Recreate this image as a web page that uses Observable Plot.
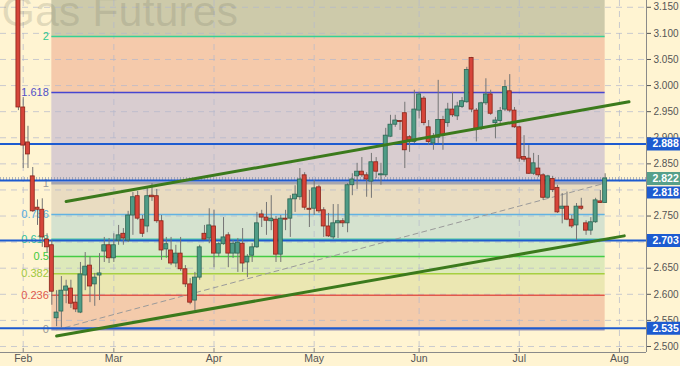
<!DOCTYPE html>
<html><head><meta charset="utf-8">
<script src="https://cdn.jsdelivr.net/npm/d3@7"></script>
<script src="https://cdn.jsdelivr.net/npm/@observablehq/plot@0.6"></script>
<style>
html,body{margin:0;padding:0;background:#fff4d2;}
#chart{width:680px;height:366px;}
</style></head><body><div id="chart"></div>
<script>
// ---- data ----
const firstDay = "2018-01-31";
const lastDay = "2018-07-27";
const holidays = ["2018-02-19","2018-03-30","2018-05-28","2018-07-04"];
const opens = [3.220,2.958,2.891,2.826,2.766,2.762,2.705,2.694,2.554,2.567,
2.607,2.611,2.584,2.565,2.636,2.655,2.619,2.636,2.682,2.694,
2.669,2.703,2.716,2.703,2.751,2.788,2.743,2.730,2.789,2.788,
2.740,2.686,2.684,2.659,2.678,2.648,2.619,2.588,2.632,2.716,
2.707,2.730,2.678,2.696,2.713,2.678,2.678,2.697,2.661,2.674,
2.690,2.753,2.747,2.740,2.743,2.676,2.745,2.745,2.782,2.786,
2.828,2.764,2.764,2.805,2.761,2.730,2.709,2.736,2.740,2.736,
2.809,2.826,2.835,2.828,2.816,2.853,2.828,2.828,2.902,2.925,
2.932,2.947,2.901,2.892,2.952,2.975,2.920,2.889,2.900,2.934,
2.928,2.954,2.941,2.959,2.968,3.053,2.952,2.917,2.966,2.983,
2.928,2.932,2.954,2.989,2.952,2.920,2.863,2.860,2.831,2.841,
2.828,2.785,2.821,2.804,2.764,2.768,2.743,2.732,2.768,2.736,
2.722,2.738,2.778,2.775];
const highs = [3.240,2.977,2.922,2.843,2.781,2.783,2.716,2.703,2.607,2.634,
2.627,2.627,2.598,2.661,2.680,2.672,2.640,2.678,2.709,2.707,
2.716,2.732,2.726,2.759,2.795,2.797,2.751,2.805,2.812,2.801,
2.751,2.709,2.709,2.694,2.709,2.655,2.630,2.642,2.694,2.732,
2.764,2.761,2.699,2.747,2.718,2.703,2.707,2.726,2.676,2.697,
2.757,2.761,2.776,2.789,2.749,2.751,2.761,2.789,2.808,2.841,
2.833,2.799,2.818,2.809,2.766,2.755,2.772,2.772,2.745,2.812,
2.831,2.851,2.862,2.833,2.870,2.862,2.851,2.918,2.943,2.943,
2.933,2.968,2.904,2.991,2.987,2.979,2.933,2.908,3.010,2.941,
2.966,2.987,2.968,2.977,3.035,3.054,2.956,2.968,3.013,2.991,
2.939,2.958,3.010,3.021,2.958,2.922,2.904,2.885,2.870,2.866,
2.831,2.828,2.826,2.809,2.793,2.796,2.751,2.774,2.784,2.741,
2.747,2.784,2.799,2.831];
const lows = [2.952,2.841,2.841,2.757,2.732,2.690,2.680,2.579,2.538,2.535,
2.582,2.573,2.565,2.563,2.607,2.584,2.577,2.588,2.661,2.659,
2.661,2.694,2.694,2.699,2.713,2.742,2.709,2.718,2.778,2.736,
2.665,2.669,2.655,2.651,2.644,2.613,2.580,2.569,2.627,2.703,
2.697,2.651,2.671,2.694,2.651,2.669,2.642,2.642,2.632,2.661,
2.688,2.728,2.713,2.722,2.661,2.661,2.722,2.709,2.757,2.780,
2.761,2.728,2.751,2.755,2.709,2.709,2.705,2.707,2.728,2.718,
2.789,2.801,2.824,2.786,2.784,2.822,2.809,2.824,2.901,2.920,
2.914,2.841,2.872,2.889,2.936,2.923,2.885,2.876,2.889,2.876,
2.920,2.939,2.933,2.956,2.966,2.948,2.892,2.914,2.962,2.943,
2.898,2.927,2.950,2.948,2.918,2.853,2.853,2.830,2.828,2.824,
2.780,2.784,2.795,2.755,2.735,2.741,2.726,2.703,2.761,2.713,
2.713,2.736,2.774,2.774];
const closes = [2.958,2.885,2.868,2.759,2.762,2.709,2.690,2.605,2.565,2.607,
2.615,2.582,2.571,2.638,2.653,2.615,2.632,2.640,2.694,2.669,
2.694,2.713,2.707,2.751,2.786,2.745,2.716,2.788,2.786,2.740,
2.684,2.696,2.659,2.678,2.648,2.619,2.584,2.632,2.690,2.705,
2.732,2.678,2.696,2.709,2.678,2.697,2.699,2.659,2.672,2.690,
2.736,2.747,2.741,2.745,2.676,2.745,2.743,2.782,2.791,2.820,
2.766,2.762,2.803,2.759,2.730,2.711,2.736,2.740,2.736,2.809,
2.820,2.835,2.828,2.820,2.853,2.835,2.830,2.904,2.925,2.933,
2.930,2.876,2.895,2.954,2.983,2.928,2.892,2.900,2.934,2.904,
2.954,2.943,2.960,2.970,3.030,2.954,2.917,2.966,2.983,2.946,
2.933,2.951,2.997,2.952,2.920,2.860,2.858,2.831,2.851,2.828,
2.785,2.826,2.800,2.757,2.768,2.743,2.730,2.768,2.764,2.722,
2.738,2.780,2.775,2.822];
const monthTicks = ["2018-02-01","2018-03-01","2018-04-02","2018-05-01","2018-06-01","2018-07-02","2018-08-01"];
const monthLabels = ["Feb","Mar","Apr","May","Jun","Jul","Aug"];
const yTicks = [2.50,2.55,2.60,2.65,2.70,2.75,2.80,2.85,2.90,2.95,3.00,3.05,3.10,3.15];
const hiddenTickLabels = [2.70, 2.80];
const fibRatios = [0,0.236,0.382,0.5,0.618,0.786,1,1.618,2,2.618];
const fibLabels = ["0","0.236","0.382","0.5","0.618","0.786","1","1.618","2"];
const fibLow = 2.532, fibHigh = 2.813;
const fibStart = "2018-02-09", fibEnd = "2018-07-27";
const levelLines = [2.888, 2.818, 2.703, 2.535];
const lastPrice = 2.822;
const upperTrend = [["2018-02-14",2.778],["2018-08-03",2.969]];
const lowerTrend = [["2018-02-12",2.520],["2018-08-02",2.712]];
const fibDiagonal = [["2018-02-12",2.532],["2018-07-27",2.813]];
const title = "Gas Futures";

// ---- build ----
function tradingDays(from, to){
  const out=[]; const end=new Date(to+"T00:00:00Z");
  for(let d=new Date(from+"T00:00:00Z"); d<=end; d.setUTCDate(d.getUTCDate()+1)){
    const s=d.toISOString().slice(0,10), w=d.getUTCDay();
    if(w!==0 && w!==6 && !holidays.includes(s)) out.push(s);
  }
  return out;
}
const cal = tradingDays(firstDay, "2018-08-20");
const xi = s => cal.indexOf(s);
const candles = cal.filter(s => s <= lastDay).map((s,i)=>({i, date:s, o:opens[i], h:highs[i], l:lows[i], c:closes[i]}));

const W=680, H=366, mR=34, mB=14;
const X_MIN=-3.76, X_MAX=131.67, Y_MIN=2.4885, Y_MAX=3.163;
const ppx=(W-mR)/(X_MAX-X_MIN), ppy=(H-mB)/(Y_MAX-Y_MIN);
const lvl = r => fibLow + r*(fibHigh-fibLow);
const fx1 = xi(fibStart), fx2 = xi(fibEnd);
const bands = fibRatios.slice(0,-1).map((r,k)=>({y1:lvl(r), y2:lvl(fibRatios[k+1]), k}));
const fibLines = fibLabels.map((t,k)=>({y:lvl(fibRatios[k]), t, k}));
const monthIdx = monthTicks.map(xi);
const monthName = new Map(monthIdx.map((v,k)=>[v, monthLabels[k]]));

const bandColors = ["#f4cbab","#ebe7b2","#dde9ba","#d3eac6","#d5e2cf","#e9dcc1","#d9cdd0","#f5caab","#cdcaaa"];
const lineColors = ["#9a92b4","#e2584a","#a6d040","#44cc44","#34c2a0","#62b2e2","#a6a6ae","#4646d0","#34d294"];
const labelColors = ["#999999","#e05a4c","#a0c840","#40c840","#30c09c","#58aee0","#999999","#5050c8","#30c890"];
const UP="#4f9c86", UPS="#2c6654", DN="#d6453a", DNS="#8a2418";
const BLUE="#1d5bd0";
const fmt = d3.format(".3f");
const bx1 = X_MAX + 1/ppx, bx2 = X_MAX + 34/ppx;
const boxLevels = levelLines.filter(v=>v!==2.818);

const chart = Plot.plot({
  width: W, height: H,
  marginLeft: 0, marginRight: mR, marginTop: 0, marginBottom: mB,
  x: {domain:[X_MIN, X_MAX], label: null},
  y: {domain:[Y_MIN, Y_MAX], label: null},
  color: {type: "identity"},
  style: {background:"#fff4d2", fontFamily:"Liberation Sans, Arial, sans-serif", fontSize:"10px", overflow:"visible"},
  marks: [
    Plot.rect(bands, {x1: fx1, x2: fx2, y1:"y1", y2:"y2", fill: d=>bandColors[d.k], clip: true}),
    Plot.ruleY(yTicks, {stroke:"#b4b8cc", strokeOpacity:0.7, strokeDasharray:"6,5"}),
    Plot.ruleX(monthIdx, {stroke:"#b4b8cc", strokeOpacity:0.7, strokeDasharray:"6,5"}),
    Plot.text([title], {frameAnchor:"top-left", textAnchor:"start", lineAnchor:"top", dx:1, dy:-5, fontSize:43, fill:"#7a7a66", fillOpacity:0.22}),
    Plot.ruleY(fibLines, {y:"y", x1: fx1, x2: fx2, stroke: d=>lineColors[d.k], strokeWidth: d=> d.k===6 ? 2.5 : 1.4}),
    Plot.text(fibLines, {x: fx1, y:"y", text:"t", textAnchor:"end", dx:-3, fill: d=>labelColors[d.k], fontSize:11}),
    Plot.line(fibDiagonal, {x: d=>xi(d[0]), y: d=>d[1], stroke:"#9a9a9a", strokeWidth:1, strokeDasharray:"5,4"}),
    Plot.ruleY([lastPrice], {stroke:"#7d8aa6", strokeOpacity:0.6, strokeWidth:3, strokeDasharray:"1,2"}),
    Plot.ruleY(levelLines, {stroke: BLUE, strokeWidth: 2}),
    Plot.ruleX(candles, {x:"i", y1:"l", y2:"h", stroke:"#747474", strokeWidth:1, clip:true}),
    Plot.rect(candles, {x1: d=>d.i-0.42, x2: d=>d.i+0.42, y1:"o", y2:"c",
      fill: d=> d.c>=d.o ? UP : DN, stroke: d=> d.c>=d.o ? UPS : DNS, strokeWidth:0.8, clip:true}),
    Plot.line(upperTrend, {x: d=>xi(d[0]), y: d=>d[1], stroke:"#3b7a1c", strokeWidth:3}),
    Plot.line(lowerTrend, {x: d=>xi(d[0]), y: d=>d[1], stroke:"#3b7a1c", strokeWidth:3}),
    Plot.ruleX([X_MAX], {stroke:"#8a8a8a"}),
    Plot.ruleY([Y_MIN], {stroke:"#8a8a8a"}),
    Plot.ruleX(monthIdx, {y1: Y_MIN, y2: Y_MIN + 4/ppy, stroke:"#8a8a8a"}),
    Plot.axisY(yTicks, {anchor:"right", label: null, tickFormat: d => hiddenTickLabels.includes(d) ? "" : fmt(d), tickSize:4, tickPadding:3, fontSize:10, color:"#555"}),
    Plot.axisX(monthIdx, {anchor:"bottom", label: null, tickFormat: d=>monthName.get(d), tickSize:0, tickPadding:2, fontSize:10.5, color:"#555"}),
    Plot.ruleY(boxLevels, {x1: bx1, x2: bx2, stroke: BLUE, strokeWidth: 13}),
    Plot.text(boxLevels, {x: X_MAX, y: d=>d, text: d=>fmt(d), textAnchor:"start", dx:6, fill:"white", fontWeight:"bold", fontSize:10.5}),
    Plot.ruleY([lastPrice], {x1: bx1, x2: bx2, stroke:"#56a08a", strokeWidth: 13}),
    Plot.text([lastPrice], {x: X_MAX, y: d=>d, text: d=>fmt(d), textAnchor:"start", dx:6, fill:"white", fontWeight:"bold", fontSize:10.5}),
    Plot.ruleY([2.818], {x1: bx1, x2: bx2, stroke: BLUE, strokeWidth: 12, dy: 12}),
    Plot.text([2.818], {x: X_MAX, y: d=>d, text: d=>fmt(d), textAnchor:"start", dx:6, dy:12, fill:"white", fontWeight:"bold", fontSize:10.5})
  ]
});
document.getElementById("chart").appendChild(chart);
</script></body></html>
